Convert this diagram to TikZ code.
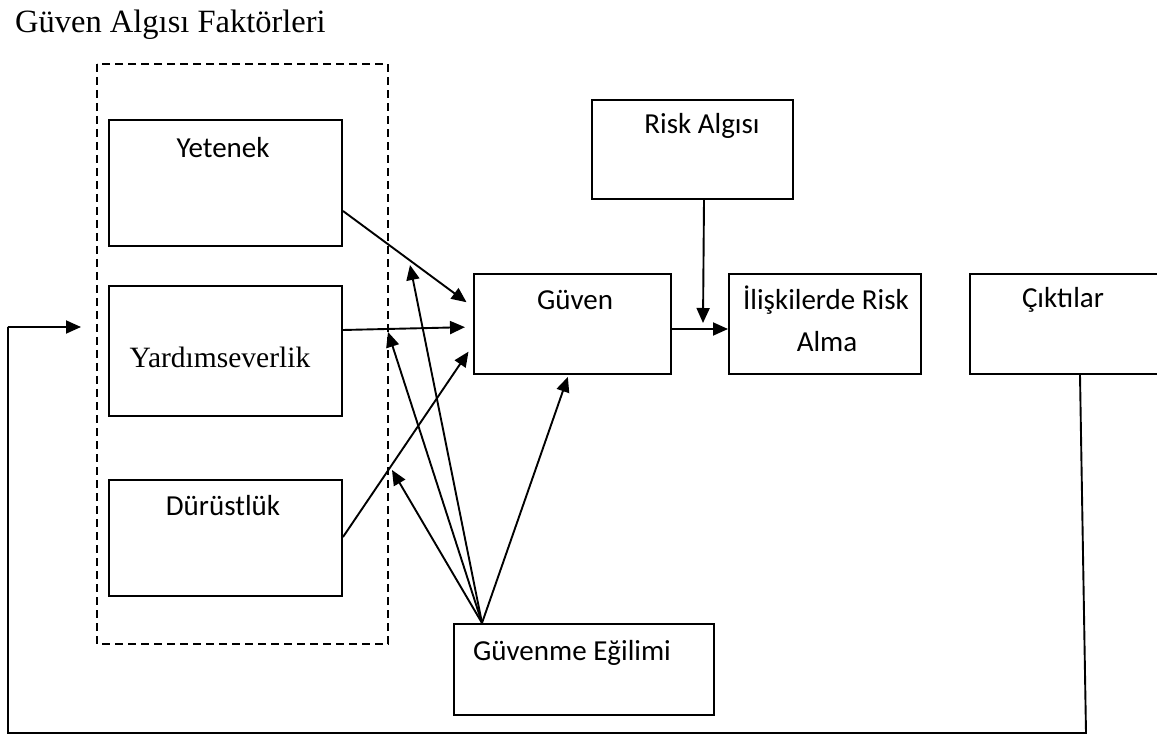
\documentclass[tikz,border=0pt]{standalone}
\usepackage{fontspec}
\setmainfont{Liberation Serif}
\newfontfamily\boxfont{Carlito}
\usetikzlibrary{arrows.meta}

\begin{document}
\begin{tikzpicture}[x=1pt, y=-1pt,
  box/.style={draw, line width=2pt, anchor=north west, inner sep=0pt},
  lbl/.style={font=\boxfont\fontsize{29}{34}\selectfont, inner sep=0pt},
  arr/.style={line width=1.9pt, -{Triangle[length=15pt, width=13pt]}},
  ln/.style={line width=1.9pt}]

  \useasboundingbox (0,0) rectangle (1157,735);

  % --- Title ---
  \node[anchor=base west, inner sep=0pt, font=\fontsize{32.5}{38}\selectfont] (title) at (15,33) {Güven Algısı Faktörleri};

  % --- Dashed group ---
  \draw[line width=2.4pt, dash pattern=on 8pt off 5pt] (97,64) rectangle (388,644);

  % --- Factor boxes ---
  \node[box, minimum width=233pt, minimum height=126pt] (yet) at (108,119) {};
  \node[box, minimum width=233pt, minimum height=130pt] (yard) at (108,285) {};
  \node[box, minimum width=233pt, minimum height=116pt] (dur) at (108,479) {};
  \node[lbl] (yettxt) at (223,148) {Yetenek};
  \node[inner sep=0pt, font=\fontsize{29.5}{34}\selectfont] (yardtxt) at (220,357) {Yardımseverlik};
  \node[lbl] (durtxt) at (223,506) {Dürüstlük};

  % --- Main boxes ---
  \node[box, minimum width=197pt, minimum height=100pt] (guv) at (473,273) {};
  \node[box, minimum width=201pt, minimum height=99pt] (risk) at (591,99) {};
  \node[box, minimum width=192pt, minimum height=100pt] (ilis) at (728,273) {};
  \node[box, minimum width=200pt, minimum height=100pt] (cik) at (969,273) {};
  \node[box, minimum width=260pt, minimum height=91pt] (egil) at (453,623) {};
  \node[lbl] (guvtxt) at (575,300) {Güven};
  \node[lbl] (risktxt) at (702,126) {Risk Algısı};
  \node[lbl] (ilistxt) at (826,300) {İlişkilerde Risk};
  \node[lbl] (almatxt) at (827,342) {Alma};
  \node[lbl] (ciktxt) at (1063,300) {Çıktılar};
  \node[lbl] (egiltxt) at (572,653) {Güvenme Eğilimi};

  % --- Free ends ---
  \coordinate (e1) at (410,265);
  \coordinate (e2) at (388,332);
  \coordinate (e3) at (392,470);
  \coordinate (rtip) at (703,323);
  \coordinate (fbR) at (1086,733);
  \coordinate (fbL) at (8,733);
  \coordinate (fbU) at (8,327);
  \coordinate (fbT) at (81,327);

  % --- Factors to Güven ---
  \draw[arr, shorten >=8pt] ([yshift=-92pt]yet.north east) -- ([yshift=-34pt]guv.north west);
  \draw[arr, shorten >=8pt] ([yshift=-45pt]yard.north east) -- ([yshift=-54pt]guv.north west);
  \draw[arr, shorten >=8pt] ([yshift=-58pt]dur.north east) -- ([yshift=-72pt]guv.north west);

  % --- From Güvenme Eğilimi ---
  \draw[arr] ([xshift=29pt]egil.north west) -- (e1);
  \draw[arr] ([xshift=29pt]egil.north west) -- (e2);
  \draw[arr] ([xshift=29pt]egil.north west) -- (e3);
  \draw[arr, shorten >=2pt] ([xshift=29pt]egil.north west) -- ([xshift=-4pt]guv.south);

  % --- Risk and outcome ---
  \draw[arr] ([xshift=11.5pt]risk.south) -- (rtip);
  \draw[arr] ([yshift=-5pt]guv.east) -- ([yshift=-5pt]ilis.west);

  % --- Feedback loop ---
  \draw[ln] ([xshift=10pt]cik.south) -- (fbR) -- (fbL) -- (fbU);
  \draw[arr] (fbU) -- (fbT);

\end{tikzpicture}
\end{document}
